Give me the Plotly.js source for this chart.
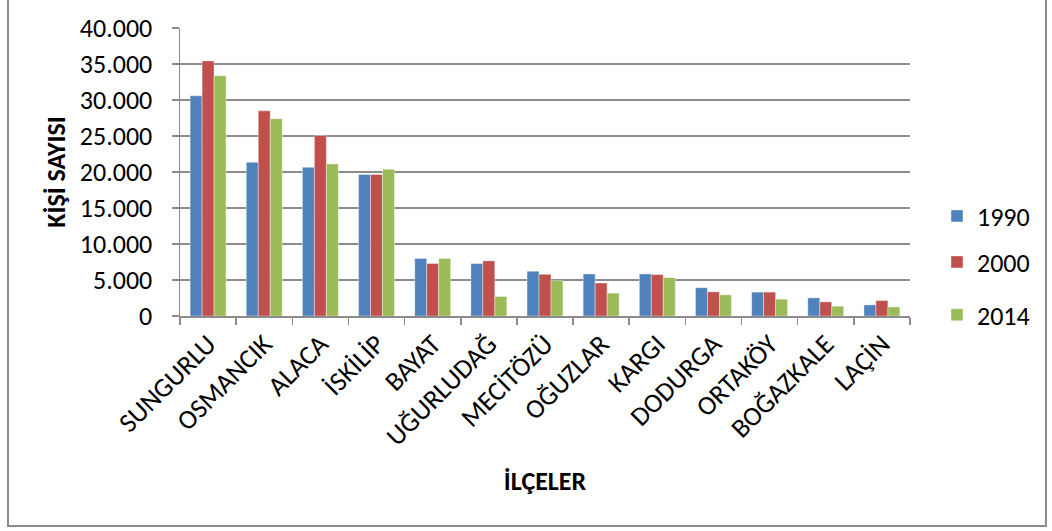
<!DOCTYPE html>
<html>
<head>
<meta charset="utf-8">
<script src="https://cdn.plot.ly/plotly-3.0.1.min.js"></script>
<style>
html,body{margin:0;padding:0;background:#fff;}
#chart{width:1052px;height:531px;position:absolute;left:0;top:0;}
#frame{position:absolute;left:7px;top:-2px;width:1036px;height:525px;border:2px solid #8c8c8c;pointer-events:none;}
</style>
</head>
<body>
<div id="chart"></div>
<div id="frame"></div>
<script>
const categories = ["SUNGURLU","OSMANCIK","ALACA","İSKİLİP","BAYAT","UĞURLUDAĞ","MECİTÖZÜ","OĞUZLAR","KARGI","DODURGA","ORTAKÖY","BOĞAZKALE","LAÇİN"];
const years = ["1990","2000","2014"];
const values1990 = [30580,21350,20650,19670,7990,7290,6220,5840,5840,3930,3320,2520,1540];
const values2000 = [35430,28490,25080,19670,7290,7660,5790,4580,5750,3360,3320,1960,2150];
const values2014 = [33380,27410,21120,20370,7990,2710,4910,3180,5330,2940,2340,1360,1260];
const yTicks = [0,5000,10000,15000,20000,25000,30000,35000,40000];

const colors = ["#4F81BD","#C0504D","#9BBB59"];
const series = [values1990, values2000, values2014];
const legendNames = ["legend","legend2","legend3"];
const fontFam = "Carlito, Calibri, Lato, 'Liberation Sans', sans-serif";

const traces = series.map((vals,i)=>({
  type:"bar",
  name:years[i],
  x:categories,
  y:vals,
  marker:{color:colors[i], line:{color:"rgba(255,255,255,0.5)", width:0.8}},
  legend:legendNames[i],
  hoverinfo:"x+y+name"
}));

const legendBase = {x:1.037, xanchor:"left", yanchor:"middle", bgcolor:"rgba(0,0,0,0)", font:{family:fontFam,size:26,color:"#000"}, itemwidth:30};

const layout = {
  width:1052, height:531,
  margin:{l:180, r:142, t:28, b:215},
  paper_bgcolor:"rgba(0,0,0,0)",
  plot_bgcolor:"#fff",
  separators:",.",
  barmode:"group",
  bargap:0.36,
  bargroupgap:0,
  font:{family:fontFam, size:26, color:"#000"},
  xaxis:{
    type:"category",
    tickangle:-45,
    tickson:"boundaries",
    ticks:"outside", ticklen:7, tickcolor:"#8c8c8c", tickwidth:1.5,
    showline:true, linecolor:"#8c8c8c", linewidth:1.5,
    showgrid:false,
    automargin:false,
    tickfont:{family:fontFam,size:27,color:"#000"},
    title:{text:"<b>İLÇELER</b>", font:{family:fontFam,size:26,color:"#000"}, standoff:20}
  },
  yaxis:{
    range:[0,40000],
    tickvals:yTicks,
    tickformat:",d",
    ticks:"outside", ticklen:7, tickcolor:"#8c8c8c", tickwidth:1.5,
    ticklabelstandoff:14,
    showline:true, linecolor:"#8c8c8c", linewidth:1.5,
    showgrid:true, gridcolor:"#8c8c8c", gridwidth:1.5,
    zeroline:false,
    automargin:false,
    tickfont:{family:fontFam,size:26,color:"#000"},
    title:{text:"<b>KİŞİ SAYISI</b>", font:{family:fontFam,size:26,color:"#000"}, standoff:6}
  },
  legend:Object.assign({}, legendBase, {y:0.347}),
  legend2:Object.assign({}, legendBase, {y:0.1875}),
  legend3:Object.assign({}, legendBase, {y:0.004}),
  showlegend:true
};

Plotly.newPlot("chart", traces, layout, {displayModeBar:false, staticPlot:true});
</script>
</body>
</html>
